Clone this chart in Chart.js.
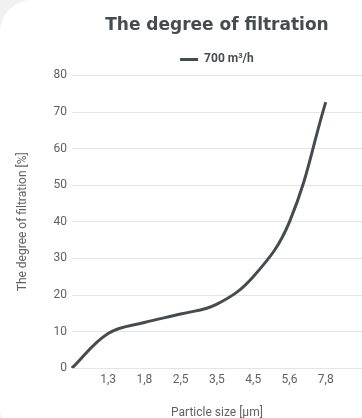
<!DOCTYPE html>
<html lang="en">
<head>
  <meta charset="UTF-8" />
  <title>The degree of filtration</title>
  <script src="https://cdn.jsdelivr.net/npm/chart.js"></script>
  <style>
    * {
      box-sizing: border-box;
      margin: 0;
      padding: 0;
    }

    body {
      background: #f1f1f1;
      width: 362px;
      height: 418px;
      overflow: hidden;
      position: relative;
    }

    .card {
      position: absolute;
      left: 0;
      top: 0;
      width: 420px;
      height: 440px;
      background: #fff;
      border-radius: 32px;
    }

    .chart-box {
      position: absolute;
      left: 0;
      top: 0;
      width: 367px;
      height: 420px;
    }
  </style>
</head>
<body>
  <div class="card"></div>
  <div class="chart-box">
    <canvas id="filtrationChart"></canvas>
  </div>

  <script>
    // particle sizes (first and last category have no label)
    const sizes = ['', '1,3', '1,8', '2,5', '3,5', '4,5', '5,6', '7,8', ''];
    // degree of filtration in %, 700 m3/h
    const filtration700 = [0, 9.5, 12.5, 14.8, 17.5, 25, 40, 72.7];
    const yTicks = [0, 10, 20, 30, 40, 50, 60, 70, 80];

    const lineColor = '#454c51';

    new Chart(document.getElementById('filtrationChart').getContext('2d'), {
      type: 'line',
      data: {
        labels: sizes,
        datasets: [{
          label: '700 m³/h',
          data: filtration700,
          borderColor: lineColor,
          backgroundColor: lineColor,
          borderWidth: 3,
          pointRadius: 0,
          tension: 0.4,
          fill: false
        }]
      },
      options: {
        responsive: true,
        maintainAspectRatio: false,
        animation: false,
        layout: {
          padding: { top: 11, right: 0, bottom: 0, left: 16 }
        },
        plugins: {
          title: {
            display: true,
            fullSize: false,
            text: 'The degree of filtration',
            color: '#454c51',
            font: { family: 'DejaVu Sans', size: 17, weight: 'bold' },
            padding: { top: 4, bottom: 7 }
          },
          legend: {
            fullSize: false,
            labels: {
              color: '#454c51',
              boxWidth: 18,
              boxHeight: 0,
              font: { family: 'Roboto', size: 12, weight: 'bold' },
              padding: 11
            }
          },
          tooltip: { enabled: false }
        },
        scales: {
          y: {
            min: 0,
            max: 80,
            afterBuildTicks: function (axis) {
              axis.ticks = yTicks.map(v => ({ value: v }));
            },
            grid: { color: '#e4e4e4', drawTicks: false },
            border: { display: false },
            ticks: {
              color: '#616161',
              padding: 5,
              font: { family: 'Roboto', size: 12 }
            },
            title: {
              display: true,
              text: 'The degree of filtration [%]',
              color: '#616161',
              font: { family: 'Roboto', size: 12 },
              padding: { top: 0, bottom: 18 }
            }
          },
          x: {
            offset: false,
            grid: { display: true, color: 'transparent', drawTicks: false },
            border: { display: false },
            ticks: {
              color: '#616161',
              padding: 5,
              maxRotation: 0,
              autoSkip: false,
              font: { family: 'Roboto', size: 12 }
            },
            title: {
              display: true,
              text: 'Particle size [µm]',
              color: '#616161',
              font: { family: 'Roboto', size: 12 },
              padding: { top: 13, bottom: 0 }
            }
          }
        }
      }
    });
  </script>
</body>
</html>
